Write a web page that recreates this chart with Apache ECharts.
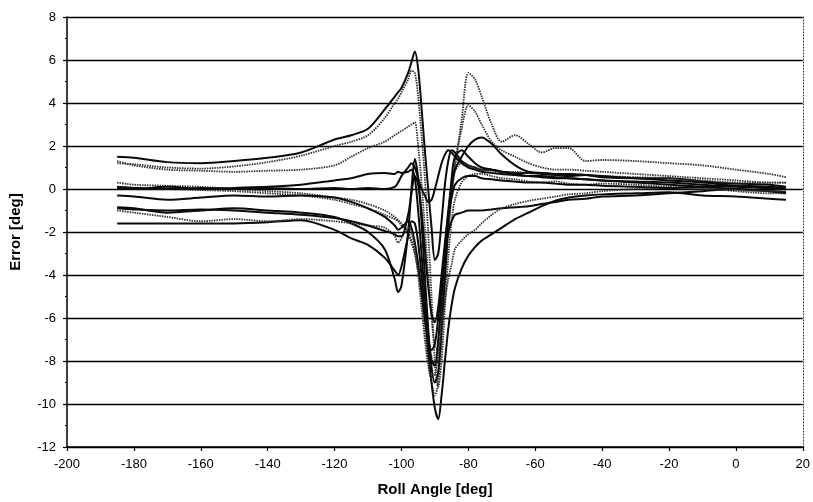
<!DOCTYPE html>
<html>
<head>
<meta charset="utf-8">
<script src="https://cdn.jsdelivr.net/npm/echarts@6/dist/echarts.min.js"></script>
<style>
html,body{margin:0;padding:0;background:#fff;}
#chart{width:813px;height:502px;}
</style>
</head>
<body>
<div id="chart"></div>
<script>
// Roll angle sample positions [deg]
var rollAngle = [-185,-180,-170,-160,-150,-140,-130,-120,-115,-110,-105,-102,-101,-100,-98,-97,-96,-95,-94,-93,-92,-91,-90,-89,-88,-87,-86,-85,-84,-82,-80,-78,-76,-73,-70,-66,-62,-58,-54,-50,-45,-40,-30,-20,-10,0,10,15];

// Error curves [deg]
var runA = [1.5,1.45,1.25,1.2,1.3,1.45,1.7,2.3,2.5,2.8,3.7,4.3,4.5,4.7,5.4,5.9,6.4,5.6,3.8,1.8,0.0,-1.8,-3.3,-3.0,-1.5,0.2,1.3,1.8,1.7,1.3,1.1,1.0,0.9,0.9,0.8,0.75,0.75,0.7,0.65,0.6,0.65,0.55,0.5,0.5,0.35,0.25,0.2,0.1];
var runB = [1.2,1.15,1.0,0.95,1.05,1.25,1.55,2.0,2.2,2.5,3.3,4.0,4.2,4.5,5.1,5.5,5.4,4.3,2.5,0.5,-2.0,-5.0,-8.0,-9.2,-8.0,-5.5,-3.2,-1.5,-0.5,0.3,0.6,0.7,0.7,0.6,0.5,0.45,0.35,0.3,0.35,0.25,0.2,0.25,0.2,0.1,0.05,-0.1,-0.2,-0.2];
var runC = [1.3,1.1,0.9,0.85,0.8,0.85,0.9,1.1,1.5,1.9,2.2,2.5,2.6,2.7,2.9,3.0,3.1,2.0,0.3,-1.8,-4.0,-6.0,-7.3,-7.5,-6.0,-4.0,-2.0,-0.3,0.8,1.2,1.1,1.0,0.9,0.85,0.8,0.8,0.75,0.75,0.7,0.7,0.65,0.6,0.55,0.5,0.4,0.3,0.3,0.3];
var runD = [0.3,0.2,0.15,0.1,0.0,-0.1,-0.2,-0.4,-0.5,-0.7,-1.0,-1.3,-1.45,-1.6,-2.0,-2.4,-3.0,-3.8,-5.0,-6.5,-8.0,-9.0,-9.6,-9.0,-7.0,-4.5,-2.0,-0.3,1.0,3.2,5.4,5.1,4.3,3.0,2.2,2.5,2.1,1.7,1.9,1.9,1.3,1.35,1.3,1.2,1.1,0.9,0.7,0.55];
var runE = [0.1,0.05,0.0,-0.05,-0.1,-0.2,-0.3,-0.5,-0.7,-0.9,-1.2,-1.4,-1.5,-1.7,-2.1,-2.5,-3.0,-3.8,-4.8,-6.0,-7.0,-7.8,-8.3,-7.5,-5.5,-3.5,-1.5,0.0,1.2,2.8,3.9,3.6,3.0,2.2,1.8,1.5,1.2,1.0,0.9,0.9,0.85,0.8,0.7,0.6,0.5,0.4,0.3,0.3];
var runF = [-0.85,-0.9,-1.1,-1.0,-0.9,-1.0,-1.1,-1.3,-1.6,-2.0,-2.8,-4.2,-4.8,-4.5,-2.0,0.0,1.4,0.5,-1.5,-4.0,-6.5,-8.3,-9.0,-8.5,-6.5,-4.0,-1.5,0.5,1.5,1.8,1.5,1.2,1.0,0.9,0.8,0.7,0.6,0.55,0.5,0.5,0.45,0.4,0.3,0.2,0.1,0.0,-0.1,-0.2];
var runG = [-1.6,-1.6,-1.6,-1.6,-1.6,-1.55,-1.45,-1.9,-2.3,-2.6,-3.2,-3.8,-4.0,-3.6,-2.2,-1.5,-1.6,-2.5,-4.0,-5.8,-7.5,-9.0,-10.2,-10.7,-9.6,-8.0,-6.5,-5.4,-4.6,-3.7,-3.1,-2.7,-2.4,-2.1,-1.8,-1.4,-1.1,-0.8,-0.55,-0.4,-0.3,-0.25,-0.2,-0.15,-0.3,-0.35,-0.45,-0.5];
var runH = [0.05,0.0,0.1,0.0,0.05,0.1,0.2,0.4,0.5,0.7,0.75,0.7,0.8,0.75,0.8,0.9,0.5,-1.0,-3.0,-5.0,-6.8,-8.0,-8.2,-7.0,-5.0,-2.8,-1.0,0.2,0.9,1.5,2.0,2.3,2.4,2.1,1.6,1.1,0.8,0.75,0.7,0.7,0.65,0.6,0.5,0.4,0.3,0.15,0.05,0.0];
var runI = [0.1,0.05,0.0,0.05,0.0,0.05,0.0,0.05,0.0,0.05,0.0,0.1,0.3,0.6,1.0,1.2,1.0,0.5,0.0,-0.3,-0.6,-0.5,0.0,0.6,1.2,1.6,1.8,1.7,1.5,1.2,1.0,0.9,0.8,0.75,0.7,0.65,0.6,0.6,0.55,0.5,0.45,0.4,0.35,0.3,0.2,0.1,0.05,0.0];
var runJ = [-0.3,-0.35,-0.5,-0.4,-0.3,-0.35,-0.3,-0.4,-0.6,-0.9,-1.3,-1.7,-1.9,-1.8,-1.5,-1.8,-2.5,-3.5,-4.8,-6.0,-7.0,-7.5,-7.2,-6.0,-4.5,-3.0,-2.0,-1.5,-1.2,-1.1,-1.0,-1.0,-1.0,-0.95,-0.9,-0.85,-0.8,-0.7,-0.6,-0.5,-0.45,-0.35,-0.3,-0.2,-0.1,0.0,-0.1,-0.15];
var runK = [-1.0,-1.1,-1.3,-1.5,-1.4,-1.5,-1.4,-1.5,-1.6,-1.7,-1.8,-2.2,-2.5,-2.3,-1.8,-2.0,-2.8,-4.0,-5.5,-7.0,-8.2,-8.8,-8.6,-7.8,-6.5,-5.2,-4.2,-3.5,-2.8,-2.4,-2.1,-1.9,-1.6,-1.2,-0.9,-0.7,-0.55,-0.45,-0.35,-0.25,-0.2,-0.1,0.0,0.05,0.0,-0.05,-0.1,-0.1];
var runL = [-0.9,-0.95,-1.0,-0.95,-1.0,-1.1,-1.2,-1.35,-1.5,-1.7,-1.95,-2.1,-2.2,-2.2,-1.2,-0.2,0.6,0.2,-1.0,-2.8,-4.5,-5.8,-6.2,-5.5,-4.0,-2.5,-1.2,-0.4,0.2,0.5,0.6,0.6,0.5,0.45,0.4,0.35,0.3,0.3,0.25,0.2,0.2,0.15,0.1,0.05,0.1,0.15,0.1,0.05];

// Axis ticks
var xTicks = {min: -200, max: 20, interval: 20};
var yTicks = {min: -12, max: 8, interval: 2};

var runs = [
  {name: 'A', data: runA, dotted: false},
  {name: 'B', data: runB, dotted: true},
  {name: 'C', data: runC, dotted: true},
  {name: 'D', data: runD, dotted: true},
  {name: 'E', data: runE, dotted: true},
  {name: 'F', data: runF, dotted: false},
  {name: 'G', data: runG, dotted: false},
  {name: 'H', data: runH, dotted: false},
  {name: 'I', data: runI, dotted: false},
  {name: 'J', data: runJ, dotted: false},
  {name: 'K', data: runK, dotted: true},
  {name: 'L', data: runL, dotted: false}
];

var FONT = '"Liberation Sans", Arial, sans-serif';

var series = runs.map(function (r) {
  return {
    name: r.name,
    type: 'line',
    showSymbol: false,
    smooth: 0.3,
    animation: false,
    yAxisIndex: 0,
    data: rollAngle.map(function (x, i) { return [x, r.data[i]]; }),
    lineStyle: r.dotted
      ? {color: '#333', width: 1.8, type: [1.5, 1]}
      : {color: '#0a0a0a', width: 2}
  };
});

var chart = echarts.init(document.getElementById('chart'), null, {renderer: 'canvas'});
chart.setOption({
  backgroundColor: '#fff',
  animation: false,
  grid: {left: 66, right: 9, top: 17, bottom: 53, containLabel: false},
  xAxis: {
    type: 'value',
    min: xTicks.min, max: xTicks.max, interval: xTicks.interval,
    name: 'Roll Angle [deg]',
    nameLocation: 'middle',
    nameGap: 35,
    nameTextStyle: {fontFamily: FONT, fontWeight: 'bold', fontSize: 15, color: '#000'},
    axisLine: {onZero: false, lineStyle: {color: '#000', width: 1.5}},
    axisTick: {show: true, length: 4, lineStyle: {color: '#000', width: 1.2}},
    axisLabel: {fontFamily: FONT, fontSize: 13, color: '#000', margin: 11},
    splitLine: {show: false}
  },
  yAxis: [{
    type: 'value',
    min: yTicks.min, max: yTicks.max, interval: yTicks.interval,
    name: 'Error [deg]',
    nameLocation: 'middle',
    nameGap: 44,
    nameTextStyle: {fontFamily: FONT, fontWeight: 'bold', fontSize: 15, color: '#000'},
    axisLine: {show: true, onZero: false, lineStyle: {color: '#000', width: 1.5}},
    axisTick: {show: true, length: 4, lineStyle: {color: '#000', width: 1.2}},
    minorTick: {show: true, splitNumber: 2, length: 2, lineStyle: {color: '#000', width: 1}},
    axisLabel: {fontFamily: FONT, fontSize: 13, color: '#000', margin: 11},
    splitLine: {show: true, lineStyle: {color: '#000', width: 1.3}}
  }, {
    type: 'value',
    position: 'right',
    min: yTicks.min, max: yTicks.max, interval: yTicks.interval,
    axisLine: {show: true, onZero: false, lineStyle: {color: '#333', width: 1, type: [1, 2]}},
    axisTick: {show: false},
    axisLabel: {show: false},
    splitLine: {show: false}
  }],
  series: series
});
</script>
</body>
</html>
